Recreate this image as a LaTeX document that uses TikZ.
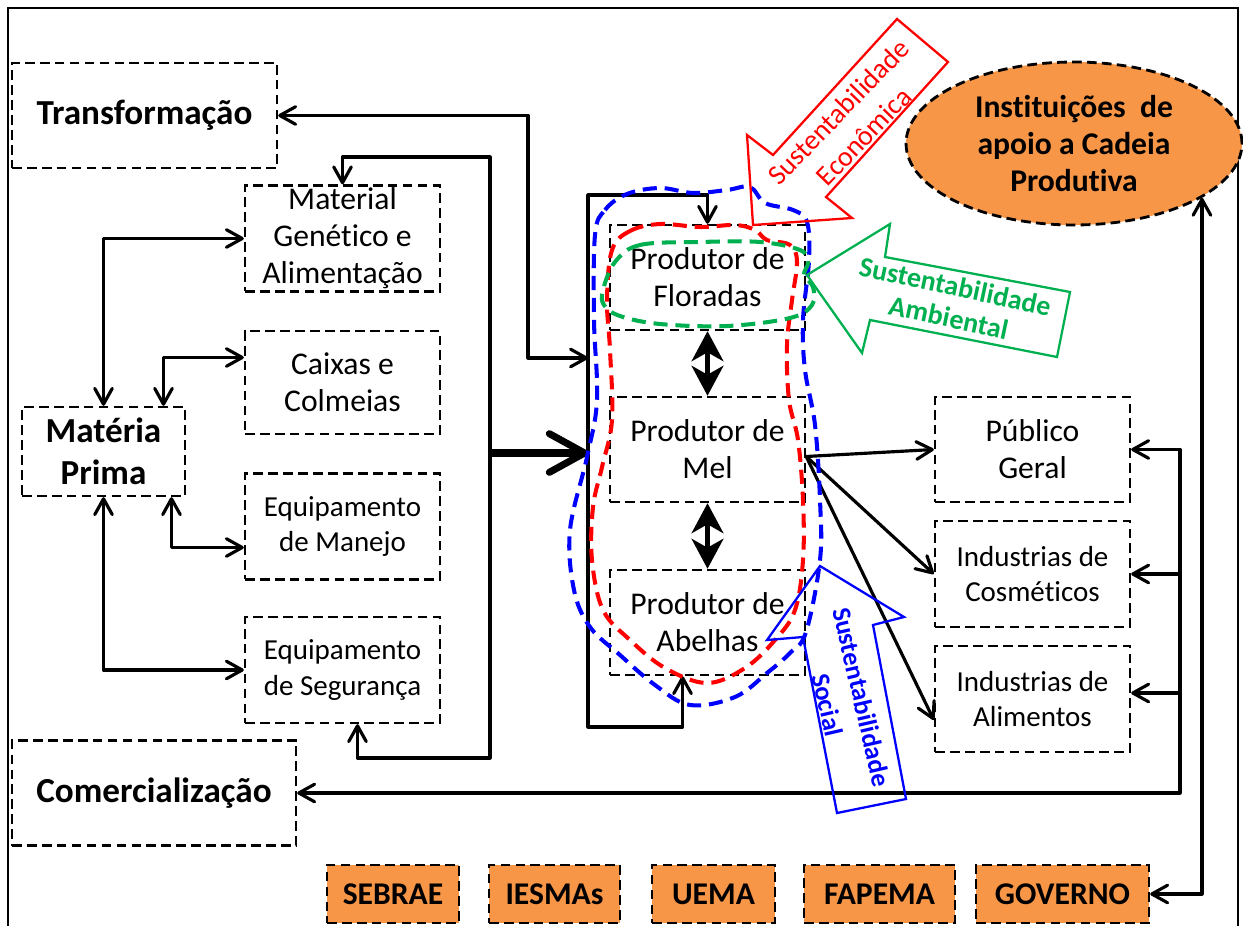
\documentclass[tikz,border=0pt]{standalone}
\usepackage{fontspec}
\setmainfont{Carlito}[Ligatures=NoCommon]
\usetikzlibrary{arrows.meta,calc,shapes.geometric}
\definecolor{laranja}{HTML}{F79646}
\definecolor{verde}{HTML}{00B050}

\begin{document}
\begin{tikzpicture}[x=0.02cm,y=-0.02cm,
    >={Straight Barb[length=9pt,width=10pt,round]},
    link/.style={line width=1.8pt,line join=round},
    box/.style={draw,dash pattern=on 5.5pt off 3pt,line width=1.4pt,align=center,inner sep=0pt,
                minimum width=3.9cm,minimum height=2.12cm,font=\fontsize{18}{21}\selectfont},
    small box/.style={box,font=\fontsize{16.5}{20}\selectfont},
    big box/.style={box,font=\fontsize{20}{24}\selectfont\bfseries},
    inst box/.style={box,fill=laranja,minimum width=#1,minimum height=1.16cm,
                     font=\fontsize{18}{21}\selectfont\bfseries},
    blob/.style={dash pattern=on 8pt off 4.5pt,line width=2.3pt},
    seta/.style={line width=1.3pt,line join=miter}]

  \useasboundingbox (0,0) rectangle (1243,926);
  \draw[line width=1pt] (8,926) -- (8,8) -- (1238,8) -- (1238,926);

  % elos da cadeia
  \node[big box,minimum width=5.3cm,minimum height=2.1cm] (tra) at (144.5,115.5) {Transformação};
  \node[big box,minimum width=5.68cm,minimum height=2.1cm] (com) at (154,793) {Comercialização};
  \node[big box,minimum width=3.26cm,minimum height=1.78cm] (mp) at (103.5,451.5) {Matéria\\Prima};

  \node[box] (mat) at (342.5,238.5) {Material\\Genético e\\Alimentação};
  \node[box,minimum height=2.06cm] (cai) at (342.5,382.5) {Caixas e\\Colmeias};
  \node[small box] (man) at (342.5,526.5) {Equipamento\\de Manejo};
  \node[small box] (seg) at (342.5,670) {Equipamento\\de Segurança};

  \node[box,minimum height=2.1cm] (flo) at (707.5,277.5) {Produtor de\\Floradas};
  \node[box,minimum height=2.1cm] (mel) at (707.5,449.5) {Produtor de\\Mel};
  \node[box,minimum height=2.1cm] (abe) at (707.5,622.5) {Produtor de\\Abelhas};

  \node[box,minimum height=2.1cm] (pub) at (1032.5,449.5) {Público\\Geral};
  \node[small box] (cos) at (1032.5,574) {Industrias de\\Cosméticos};
  \node[small box] (ali) at (1032.5,699) {Industrias de\\Alimentos};

  % instituicoes
  \node[draw,ellipse,fill=laranja,dash pattern=on 5.5pt off 3pt,line width=1.6pt,
        minimum width=6.72cm,minimum height=3.26cm,inner sep=0pt,align=center,
        font=\fontsize{18}{21}\selectfont\bfseries] (ins) at (1074,143.5)
        {Instituições\ \ de\\apoio a Cadeia\\Produtiva};

  \foreach \name/\x/\w/\txt in {seb/393/2.64cm/SEBRAE, ies/554.5/2.62cm/IESMAs,
      uem/713.5/2.46cm/UEMA, fap/879.5/3.02cm/FAPEMA, gov/1062.5/3.46cm/GOVERNO}
    \node[inst box=\w] (\name) at (\x,894) {\txt};

  \coordinate (tcol) at (528,358);
  \coordinate (inT) at (588,358);
  \coordinate (busT) at (490,157);
  \coordinate (busB) at (490,758);
  \coordinate (busM) at (490,453);
  \coordinate (inM) at (588,453);
  \coordinate (loopT) at (588,195);
  \coordinate (loopB) at (588,727);
  \coordinate (rbus) at (1180,793);

  % materia prima
  \draw[link,<->] (mat.west) -| (mp.north);
  \draw[link,<->] ([yshift=0.5cm]cai.west) -| ([xshift=1.2cm]mp.north);
  \draw[link,<->] ([yshift=-0.42cm]man.west) -| ([xshift=1.36cm]mp.south);
  \draw[link,<->] (seg.west) -| (mp.south);
  \draw[link,<->] (mat.north) |- (busT) -- (busB) -| ([xshift=0.3cm]seg.south);
  \draw[link,line width=4pt,-{Straight Barb[length=20pt,width=22pt,round]}] (busM) -- (inM);
  \draw[link,<->] (tra.east) -| (tcol) -- (inT);

  % produtores
  \draw[link,<->] ([xshift=-0.5cm]abe.south) |- (loopB) -- (loopT) -| (flo.north);
  \draw[line width=3pt,{Stealth[length=17pt,width=18pt,inset=5pt]}-{Stealth[length=17pt,width=18pt,inset=5pt]}] (flo.south) -- (mel.north);
  \draw[line width=3pt,{Stealth[length=17pt,width=18pt,inset=5pt]}-{Stealth[length=17pt,width=18pt,inset=5pt]}] (mel.south) -- (abe.north);

  % mercado
  \draw[link,->] ([yshift=-0.14cm]mel.east) -- (pub.west);
  \draw[link,->] ([yshift=-0.14cm]mel.east) -- (cos.west);
  \draw[link,->] ([yshift=-0.14cm]mel.east) -- ([yshift=-0.42cm]ali.west);
  \draw[link,<->] (pub.east) -| (rbus) |- (com.east);
  \draw[link,->] (cos.east -| rbus) -- (cos.east);
  \draw[link,->] ([yshift=0.12cm]ali.east -| rbus) -- ([yshift=0.12cm]ali.east);
  \draw[link,<->] (gov.east) -| (ins.-23);

  % contornos
  \draw[blob,blue] plot[smooth cycle,tension=0.6] coordinates {
    (595,235) (605,210) (627,194) (660,188) (693,193) (727,190) (750,187) (765,203)
    (793,210) (807,222) (809,260) (803,320) (805,370) (815,425) (820,500) (820,560)
    (806,632) (790,653) (767,673) (735,697) (690,705) (655,685) (620,655) (590,627)
    (574,590) (570,530) (587,457) (597,400) (594,320)};
  \draw[blob,red] plot[smooth cycle,tension=0.6] coordinates {
    (612,250) (630,231) (660,224) (700,227) (735,225) (755,230) (767,240) (790,245)
    (797,262) (792,300) (787,345) (789,400) (798,440) (803,500) (803,560) (795,610)
    (775,640) (745,668) (707,683) (665,668) (630,640) (603,610) (592,560) (593,507)
    (602,467) (612,420) (610,350) (607,300)};
  \draw[blob,verde] plot[smooth cycle,tension=0.6] coordinates {
    (615,262) (640,245) (700,242) (760,242) (800,250) (808,262) (804,275) (813,287)
    (812,305) (790,318) (727,326) (660,324) (620,316) (604,305) (603,290)};

  % setas de sustentabilidade
  \draw[red,seta] (897,19) -- (948,62) -- (826,197) -- (852,218) -- (753,225) -- (747,135) -- (773,155) -- cycle;
  \node[red,rotate=46,align=center,font=\fontsize{16}{20}\selectfont] (eco) at (851,124) {Sustentabilidade\\Econômica};
  \draw[verde,seta] (807,275) -- (890,224) -- (885,257) -- (1070,292) -- (1057,357) -- (870,320) -- (862,353) -- cycle;
  \node[verde,rotate=-12,align=center,font=\fontsize{16}{18}\selectfont\bfseries] (amb) at (952,302) {Sustentabilidade\\Ambiental};
  \draw[blue,seta] (820,566) -- (904,617) -- (873,625) -- (906,799) -- (837,813) -- (803,637) -- (767,640) -- cycle;
  \node[blue,rotate=-77,align=center,font=\fontsize{15}{20}\selectfont\bfseries] (soc) at (845,701) {Sustentabilidade\\Social};
\end{tikzpicture}
\end{document}
